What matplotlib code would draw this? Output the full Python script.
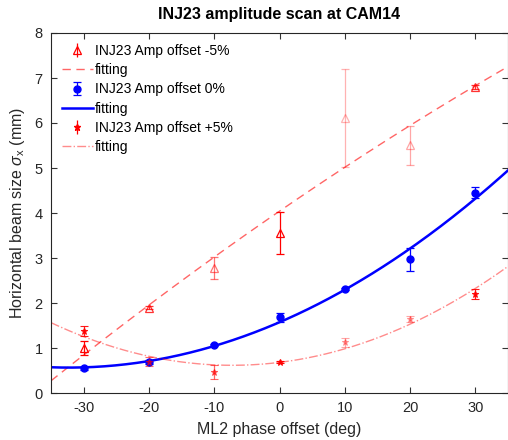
import numpy as np
import matplotlib
matplotlib.use("Agg")
import matplotlib.pyplot as plt

plt.rcParams['font.family'] = ['Liberation Sans', 'DejaVu Sans']
plt.rcParams['mathtext.fontset'] = 'custom'
plt.rcParams['mathtext.it'] = 'Liberation Sans:italic'
plt.rcParams['mathtext.rm'] = 'Liberation Sans'
plt.rcParams['axes.unicode_minus'] = False

phase = [-30, -20, -10, 0, 10, 20, 30]

m5_val = [1.00, 1.90, 2.78, 3.56, 6.11, 5.50, 6.80]
m5_err = [0.15, 0.03, 0.25, 0.47, 1.09, 0.43, 0.05]

z_val = [0.55, 0.69, 1.07, 1.68, 2.31, 2.97, 4.45]
z_err = [0.03, 0.05, 0.03, 0.10, 0.02, 0.25, 0.12]

p5_val = [1.38, 0.70, 0.47, 0.69, 1.13, 1.64, 2.20]
p5_err = [0.12, 0.10, 0.15, 0.03, 0.10, 0.07, 0.11]

labels = ['INJ23 Amp offset -5%', 'fitting', 'INJ23 Amp offset 0%', 'fitting',
          'INJ23 Amp offset +5%', 'fitting']

# per-point opacity seen in the reference (style only)
m5_alpha = [1.0, 0.8, 0.55, 1.0, 0.3, 0.35, 0.8]
p5_alpha = [0.9, 0.6, 0.6, 1.0, 0.35, 0.35, 0.9]

fig = plt.figure(figsize=(5.08, 4.40), dpi=100)
ax = fig.add_axes([51/508, 1-393/440, 457/508, 360/440])

x = np.array(phase, float)
xf = np.linspace(-35, 35, 300)

def fit(vals):
    c = np.polyfit(x, np.array(vals), 2)
    return np.polyval(c, xf)

red = '#ff0000'
blue = '#0000ff'

# -5%
for xi, v, e, a in zip(x, m5_val, m5_err, m5_alpha):
    ax.errorbar(xi, v, yerr=e, fmt='^', color=red, mfc='none', ms=6, mew=0.9,
                capsize=3, elinewidth=0.9, capthick=0.9, alpha=a)
h1 = ax.errorbar([], [], yerr=[], fmt='^', color=red, mfc='none', ms=6, mew=0.9,
                 capsize=3, elinewidth=0.9)
h2, = ax.plot(xf, fit(m5_val), '--', color=red, lw=1.0, alpha=0.6,
              dashes=(6, 4))
# 0%
h3 = ax.errorbar(x, z_val, yerr=z_err, fmt='o', color=blue, ms=5,
                 capsize=3, elinewidth=0.9, capthick=0.9)
h4, = ax.plot(xf, fit(z_val), '-', color=blue, lw=1.8)
# +5%
for xi, v, e, a in zip(x, p5_val, p5_err, p5_alpha):
    ax.errorbar(xi, v, yerr=e, fmt='*', color=red, ms=5, mew=0.8,
                capsize=3, elinewidth=0.9, capthick=0.9, alpha=a)
h5 = ax.errorbar([], [], yerr=[], fmt='*', color=red, ms=5,
                 capsize=3, elinewidth=0.9)
h6, = ax.plot(xf, fit(p5_val), '-.', color=red, lw=1.0, alpha=0.45)

ax.set_xlim(-35, 35)
ax.set_ylim(0, 8)
ax.set_xticks(phase)
ax.set_yticks(range(0, 9))
ax.tick_params(direction='in', top=True, right=True, length=4, labelsize=10.5,
               color='#333333', labelcolor='#262626', pad=6)
for s in ax.spines.values():
    s.set_color('#262626')
    s.set_linewidth(0.8)

ax.set_xlabel('ML2 phase offset (deg)', fontsize=11.5, color='#262626', labelpad=5)
ax.set_ylabel(r'Horizontal beam size $\sigma_{\rm x}$ (mm)', fontsize=11.5,
              color='#262626', labelpad=5)
ax.set_title('INJ23 amplitude scan at CAM14', fontsize=11.5, fontweight='bold',
             pad=10)

leg = ax.legend([h1, h2, h3, h4, h5, h6], labels, loc='upper left',
                frameon=False, fontsize=10, handlelength=2.2, handletextpad=0.15,
                labelspacing=0.37, borderaxespad=0.5, borderpad=0.3)

fig.savefig('out.png', dpi=100)
